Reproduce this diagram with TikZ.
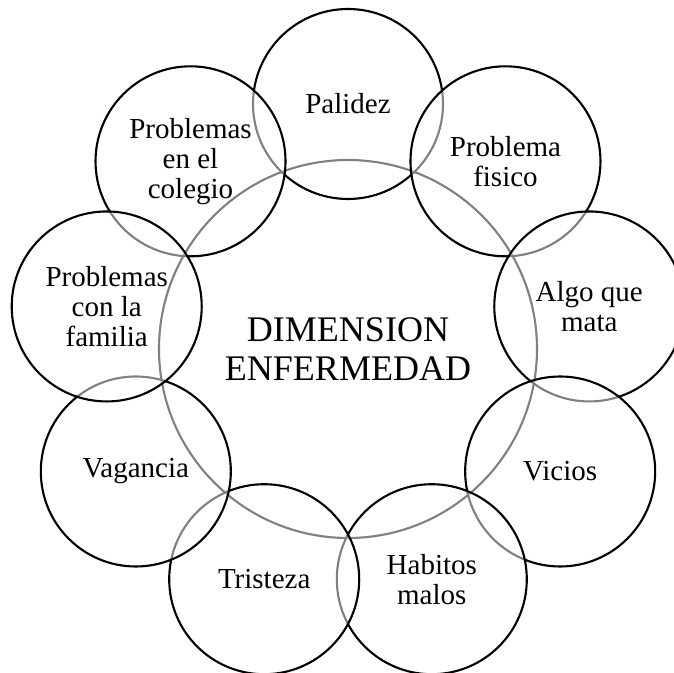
\documentclass[tikz,border=0pt]{standalone}
\usepackage{fontspec}
\setmainfont{Liberation Serif}
\begin{document}
\begin{tikzpicture}[
   bubble/.style={circle,draw=black,line width=1.2pt,fill=white,fill opacity=0.5,text opacity=1,
    minimum size=3.8cm,inner sep=0pt,align=center,font=\fontsize{16.5}{17}\selectfont}]
   \useasboundingbox (-6.96,-6.48) rectangle (6.52,6.98);
   \node [circle,draw=black,line width=1.2pt,minimum size=7.56cm,inner sep=0pt,align=center,
    font=\fontsize{20.5}{22.5}\selectfont] (dimension) at (0,0) {DIMENSION\\ENFERMEDAD};
   \node [bubble] (palidez) at (90:4.9) {Palidez};
   \node [bubble] (fisico) at (50:4.9) {Problema\\fisico};
   \node [bubble] (mata) at (10:4.9) {Algo que\\mata};
   \node [bubble] (vicios) at (-30:4.9) {Vicios};
   \node [bubble] (habitos) at (-70:4.9) {Habitos\\malos};
   \node [bubble] (tristeza) at (-110:4.9) {Tristeza};
   \node [bubble] (vagancia) at (-150:4.9) {Vagancia};
   \node [bubble] (colegio) at (130:4.9) {Problemas\\en el\\colegio};
   \node [bubble] (familia) at (170:4.9) {Problemas\\con la\\familia};
  \end{tikzpicture}
\end{document}
